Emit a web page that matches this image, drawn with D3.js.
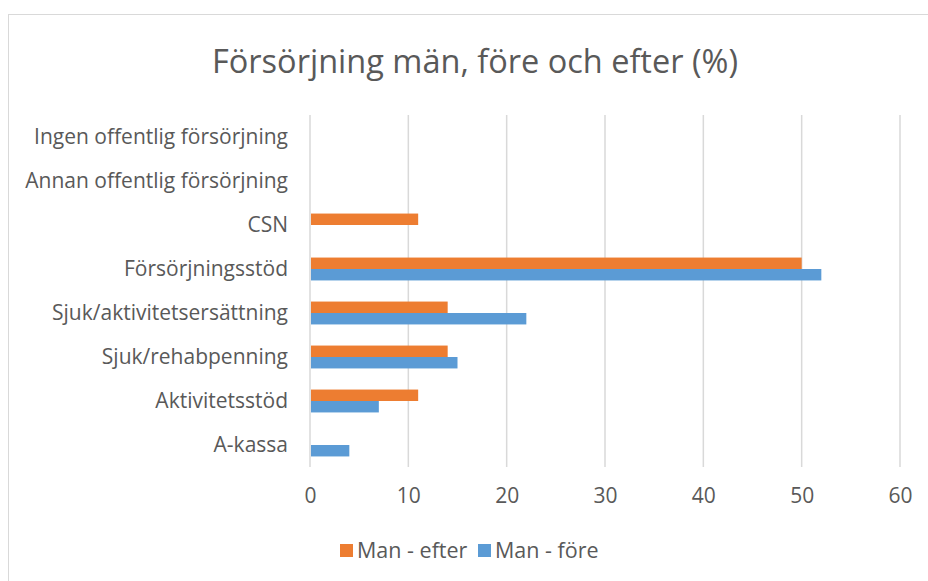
<html>
<head>
<meta charset="utf-8">
<script src="https://d3js.org/d3.v7.min.js"></script>
<style>
  body { margin: 0; background: #fff; }
  text { font-family: "Open Sans", sans-serif; fill: #595959; }
</style>
</head>
<body>
<svg width="928" height="581"></svg>
<script>
  // data, top to bottom
  var categories = ["Ingen offentlig försörjning", "Annan offentlig försörjning", "CSN", "Försörjningsstöd",
    "Sjuk/aktivitetsersättning", "Sjuk/rehabpenning", "Aktivitetsstöd", "A-kassa"];
  var seriesNames = ["Man - efter", "Man - före"];
  var efter = [0, 0, 11, 50, 14, 14, 11, 0];
  var fore = [0, 0, 0, 52, 22, 15, 7, 4];
  var xTicks = [0, 10, 20, 30, 40, 50, 60];
  var colors = ["#ed7d31", "#5b9bd5"];

  var svg = d3.select("svg");

  // chart frame
  svg.append("rect")
    .attr("x", 8.5).attr("y", 14.5)
    .attr("width", 940).attr("height", 600)
    .attr("fill", "white").attr("stroke", "#d9d9d9");

  svg.append("text")
    .attr("x", 475).attr("y", 73)
    .attr("text-anchor", "middle")
    .style("font-size", "32.5px")
    .text("Försörjning män, före och efter (%)");

  var plotLeft = 310, plotRight = 900, plotTop = 115, plotBottom = 467;

  var xs = d3.scaleLinear().domain([0, 60]).range([plotLeft, plotRight]);
  var ys = d3.scaleBand().domain(categories).range([plotTop, plotBottom]).paddingInner(0.48).paddingOuter(0.24);
  var ySub = d3.scaleBand().domain([0, 1]).range([0, ys.bandwidth()]);

  // gridlines
  svg.append("g")
    .selectAll("line").data(xTicks).enter().append("line")
    .attr("x1", function (d) { return xs(d); })
    .attr("x2", function (d) { return xs(d); })
    .attr("y1", plotTop).attr("y2", plotBottom)
    .attr("stroke", "#d9d9d9").attr("stroke-width", 1.5);

  // x axis labels
  var xAxis = svg.append("g")
    .attr("transform", "translate(0," + plotBottom + ")")
    .call(d3.axisBottom(xs).tickValues(xTicks).tickSize(0).tickPadding(21));
  xAxis.select(".domain").remove();
  xAxis.selectAll("text").style("font-size", "21px").attr("fill", "#595959");

  // y axis labels
  var yAxis = svg.append("g")
    .attr("transform", "translate(" + (plotLeft - 22) + ",0)")
    .call(d3.axisLeft(ys).tickSize(0).tickPadding(0));
  yAxis.select(".domain").remove();
  yAxis.selectAll("text").style("font-size", "21px").attr("fill", "#595959");

  var series = [efter, fore];
  series.forEach(function (vals, s) {
    svg.append("g")
      .selectAll("rect").data(vals).enter().append("rect")
      .attr("x", xs(0) + 1)
      .attr("y", function (d, i) { return ys(categories[i]) + ySub(s); })
      .attr("width", function (d) { return Math.max(0, xs(d) - xs(0) - 1); })
      .attr("height", ySub.bandwidth())
      .attr("fill", colors[s]);
  });

  // legend
  var legendX = [340, 478];
  var lg = svg.append("g");
  seriesNames.forEach(function (name, i) {
    lg.append("rect")
      .attr("x", legendX[i]).attr("y", 544)
      .attr("width", 13).attr("height", 13)
      .attr("fill", colors[i]);
    lg.append("text")
      .attr("x", legendX[i] + 17).attr("y", 558)
      .style("font-size", "21.5px")
      .text(name);
  });
</script>
</body>
</html>
